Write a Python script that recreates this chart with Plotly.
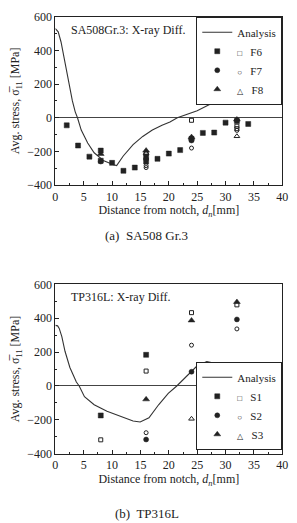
import plotly.graph_objects as go

# ---------- Data: (a) SA508 Gr.3 ----------
a_analysis_x = [0, 0.5, 1.0, 1.5, 2.0, 2.5, 3.0, 3.5, 3.9, 4.56, 5.7, 6.84, 8.55, 10.26, 10.8,
                11.97, 13.7, 15.4, 17.1, 18.8, 20.2, 21.5, 25, 28.4, 31.8, 35.8]
a_analysis_y = [530, 510, 450, 360, 270, 180, 100, 35, 0, -73, -150, -208, -256, -279, -284,
                -227, -160, -111, -73, -44, -25, 0, 42, 100, 162, 134]

f6_fill_x = [2, 4, 6, 8, 8, 10, 12, 14, 16, 16, 18, 20, 22, 24, 26, 28, 30, 32, 34]
f6_fill_y = [-45, -165, -231, -195, -255, -268, -315, -296, -230, -260, -244, -213, -192, -125, -90, -88, -29, -20, -37]
f6_open_x = [16, 24, 24, 32, 32]
f6_open_y = [-215, -15, -130, -50, -65]
f7_fill_x = [8, 16, 24, 32]
f7_fill_y = [-260, -245, -135, -15]
f7_open_x = [16, 16, 24, 32]
f7_open_y = [-285, -296, -180, -75]
f8_fill_x = [8, 16, 24, 32]
f8_fill_y = [-215, -195, -115, -10]
f8_open_x = [16, 24, 32]
f8_open_y = [-210, -120, -110]

# ---------- Data: (b) TP316L ----------
b_analysis_x = [0, 0.4, 0.68, 1.14, 1.7, 2.56, 3.7, 4.2, 5.13, 6.84, 9.1, 11.4, 13.7, 14.95,
                16.5, 18.2, 19.9, 21.4, 24.1, 25, 26.7, 28.9, 32.1, 35.5]
b_analysis_y = [358, 355, 340, 291, 205, 109, 23, 0, -63, -111, -149, -178, -207, -213,
                -188, -111, -44, 0, 86, 119, 144, 128, 94, 42]

s1_fill_x = [8, 16]
s1_fill_y = [-174, 184]
s1_open_x = [8, 16, 24, 32]
s1_open_y = [-318, 88, 433, 479]
s2_fill_x = [16, 24, 32]
s2_fill_y = [-316, 84, 393]
s2_open_x = [16, 24, 32]
s2_open_y = [-276, 241, 337]
s3_fill_x = [16, 24, 32]
s3_fill_y = [-79, 387, 496]
s3_open_x = [24, 32]
s3_open_y = [-194, 99]

x_ticks = [0, 5, 10, 15, 20, 25, 30, 35, 40]
y_ticks = [-400, -200, 0, 200, 400, 600]

FONT = "Liberation Serif, Times New Roman, serif"
INK = "#222222"

fig = go.Figure()

def add_line(x, y, xa, ya, leg):
    fig.add_trace(go.Scatter(x=x, y=y, mode="lines", name="Analysis",
                             line=dict(color="#333333", width=1.1),
                             xaxis=xa, yaxis=ya, legend=leg))

def add_pts(x, y, sym, size, xa, ya, leg, name=None, show=False, lw=0.5):
    fig.add_trace(go.Scatter(x=x, y=y, mode="markers", name=name or "",
                             marker=dict(symbol=sym, size=size, color=INK,
                                         line=dict(color=INK, width=lw)),
                             xaxis=xa, yaxis=ya, legend=leg, showlegend=show))

def lab(sym, name):
    return "<span style='font-size:8px'>" + sym + "</span>   " + name

# (a)
add_line(a_analysis_x, a_analysis_y, "x", "y", "legend")
add_pts(f6_fill_x, f6_fill_y, "square", 5, "x", "y", "legend", lab("□", "F6"), True)
add_pts(f7_fill_x, f7_fill_y, "circle", 5, "x", "y", "legend", lab("○", "F7"), True)
add_pts(f8_fill_x, f8_fill_y, "triangle-up", 6, "x", "y", "legend", lab("△", "F8"), True)
add_pts(f6_open_x, f6_open_y, "square-open", 4, "x", "y", "legend", lw=1)
add_pts(f7_open_x, f7_open_y, "circle-open", 4, "x", "y", "legend", lw=1)
add_pts(f8_open_x, f8_open_y, "triangle-up-open", 5, "x", "y", "legend", lw=1)

# (b)
add_line(b_analysis_x, b_analysis_y, "x2", "y2", "legend2")
add_pts(s1_fill_x, s1_fill_y, "square", 5, "x2", "y2", "legend2", lab("□", "S1"), True)
add_pts(s2_fill_x, s2_fill_y, "circle", 5, "x2", "y2", "legend2", lab("○", "S2"), True)
add_pts(s3_fill_x, s3_fill_y, "triangle-up", 6, "x2", "y2", "legend2", lab("△", "S3"), True)
add_pts(s1_open_x, s1_open_y, "square-open", 4, "x2", "y2", "legend2", lw=1)
add_pts(s2_open_x, s2_open_y, "circle-open", 4, "x2", "y2", "legend2", lw=1)
add_pts(s3_open_x, s3_open_y, "triangle-up-open", 5, "x2", "y2", "legend2", lw=1)

W, H = 297, 523
xdom = [54 / W, 288 / W]
ydom1 = [1 - 183 / H, 1 - 10 / H]
ydom2 = [1 - 459 / H, 1 - 285 / H]

def xaxis(anchor):
    return dict(domain=xdom, anchor=anchor, range=[0, 40], tickvals=x_ticks,
                ticks="inside", ticklen=4, tickcolor=INK, showline=True, linecolor=INK,
                linewidth=1, mirror=True, showgrid=False, zeroline=False,
                minor=dict(dtick=2.5, tick0=0, ticks="inside", ticklen=2, tickcolor=INK),
                tickfont=dict(family=FONT, size=12, color=INK),
                title=dict(text="Distance from notch, <i>d</i><sub><i>n</i></sub>[mm]",
                           font=dict(family=FONT, size=12, color=INK), standoff=2))

def yaxis(anchor, dom):
    return dict(domain=dom, anchor=anchor, range=[-400, 600], tickvals=y_ticks,
                ticks="inside", ticklen=4, tickcolor=INK, showline=True, linecolor=INK,
                linewidth=1, mirror=True, showgrid=False,
                zeroline=True, zerolinecolor="#444444", zerolinewidth=1,
                minor=dict(dtick=100, tick0=0, ticks="inside", ticklen=2, tickcolor=INK),
                tickfont=dict(family=FONT, size=12, color=INK),
                title=dict(text="Avg. stress, σ\u0305<sub>11</sub> [MPa]",
                           font=dict(family=FONT, size=12, color=INK), standoff=4))

legend_common = dict(bgcolor="white", bordercolor=INK, borderwidth=1,
                     font=dict(family=FONT, size=11, color=INK),
                     xanchor="right", itemwidth=30, tracegroupgap=0)

fig.update_layout(
    width=W, height=H, margin=dict(l=0, r=0, t=0, b=0),
    paper_bgcolor="white", plot_bgcolor="white",
    font=dict(family=FONT, color=INK),
    xaxis=xaxis("y"), yaxis=yaxis("x", ydom1),
    xaxis2=xaxis("y2"), yaxis2=yaxis("x2", ydom2),
    legend=dict(legend_common, x=xdom[1], y=ydom1[1], yanchor="top"),
    legend2=dict(legend_common, x=xdom[1], y=1 - 455 / H, yanchor="bottom"),
    annotations=[
        dict(text="SA508Gr.3: X-ray Diff.", xref="paper", yref="paper",
             x=68 / W, y=1 - 24 / H, xanchor="left", yanchor="middle", showarrow=False,
             font=dict(family=FONT, size=12, color=INK)),
        dict(text="TP316L: X-ray Diff.", xref="paper", yref="paper",
             x=68 / W, y=1 - 298 / H, xanchor="left", yanchor="middle", showarrow=False,
             font=dict(family=FONT, size=12, color=INK)),
        dict(text="(a)  SA508 Gr.3", xref="paper", yref="paper",
             x=148 / W, y=1 - 235 / H, xanchor="center", yanchor="middle", showarrow=False,
             font=dict(family=FONT, size=13, color=INK)),
        dict(text="(b)  TP316L", xref="paper", yref="paper",
             x=148 / W, y=1 - 520 / H, xanchor="center", yanchor="middle", showarrow=False,
             font=dict(family=FONT, size=13, color=INK)),
    ],
)

fig.write_html("out.html")
